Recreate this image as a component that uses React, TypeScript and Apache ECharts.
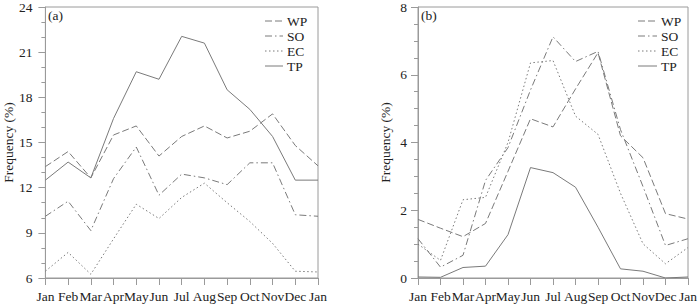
import React, { useEffect, useRef } from "react";
import * as echarts from "echarts";

const months = ["Jan", "Feb", "Mar", "Apr", "May", "Jun", "Jul", "Aug", "Sep", "Oct", "Nov", "Dec", "Jan"];

// Panel (a)
const aWP = [13.4, 14.4, 12.65, 15.5, 16.1, 14.1, 15.4, 16.1, 15.3, 15.75, 16.9, 14.8, 13.45];
const aSO = [10.1, 11.1, 9.15, 12.6, 14.7, 11.5, 12.9, 12.65, 12.2, 13.65, 13.65, 10.2, 10.1];
const aEC = [6.45, 7.7, 6.25, 8.6, 10.9, 9.95, 11.35, 12.3, 11.0, 9.75, 8.3, 6.45, 6.4];
const aTP = [12.5, 13.7, 12.65, 16.6, 19.7, 19.2, 22.05, 21.6, 18.5, 17.2, 15.4, 12.5, 12.5];

// Panel (b)
const bWP = [1.73, 1.47, 1.22, 1.61, 3.15, 4.7, 4.46, 5.58, 6.65, 4.2, 3.55, 1.9, 1.74];
const bSO = [1.16, 0.32, 0.67, 2.88, 3.85, 5.55, 7.12, 6.39, 6.69, 4.38, 2.7, 0.96, 1.16];
const bEC = [1.0, 0.52, 2.31, 2.38, 4.0, 6.35, 6.42, 4.78, 4.24, 2.5, 1.01, 0.42, 0.9];
const bTP = [0.03, 0.02, 0.31, 0.35, 1.28, 3.26, 3.11, 2.68, 1.5, 0.27, 0.2, 0.0, 0.03];

const seriesNames = ["WP", "SO", "EC", "TP"];
const FONT = "Liberation Serif";
const LINE = "#7a7a7a";
const AXIS = "#9a9a9a";
const TEXT = "#222";
const FS = 13.5;

const dashes: Record<string, any> = {
  WP: [7, 3],
  SO: [7, 3, 1.5, 3],
  EC: [1.5, 2.5],
  TP: "solid",
};

export default function App() {
  const ref = useRef<HTMLDivElement>(null);
  useEffect(() => {
    if (!ref.current) return;
    const chart = echarts.init(ref.current, undefined, { renderer: "svg" });
    const grids = [
      { left: 45, top: 5, right: 382, bottom: 26 },
      { left: 418, top: 5, right: 9, bottom: 26 },
    ];
    const mkX = (i: number) => ({
      type: "category",
      gridIndex: i,
      data: months,
      boundaryGap: false,
      axisLine: { show: true, lineStyle: { color: AXIS, width: 1 } },
      axisTick: { show: true, inside: false, length: 7, interval: 0, lineStyle: { color: AXIS } },
      axisLabel: {
        interval: 0,
        showMinLabel: true,
        showMaxLabel: true,
        hideOverlap: false,
        color: TEXT,
        fontFamily: FONT,
        fontSize: FS,
        margin: 11,
      },
      splitLine: { show: false },
    });
    const mkY = (i: number, min: number, max: number, interval: number, minorSplit: number, margin: number, gap: number) => ({
      type: "value",
      gridIndex: i,
      min,
      max,
      interval,
      name: "Frequency (%)",
      nameLocation: "middle",
      nameGap: gap,
      nameTextStyle: { color: TEXT, fontFamily: FONT, fontSize: FS },
      axisLine: { show: true, lineStyle: { color: AXIS, width: 1 } },
      axisTick: { show: true, inside: false, length: 7, lineStyle: { color: AXIS } },
      minorTick: { show: true, splitNumber: minorSplit, length: 4, lineStyle: { color: AXIS } },
      axisLabel: { color: TEXT, fontFamily: FONT, fontSize: FS, margin, showMinLabel: true, showMaxLabel: true },
      splitLine: { show: false },
      minorSplitLine: { show: false },
    });
    const data: Record<string, number[][]> = {
      WP: [aWP, bWP],
      SO: [aSO, bSO],
      EC: [aEC, bEC],
      TP: [aTP, bTP],
    };
    const series: any[] = [];
    [0, 1].forEach((p) => {
      seriesNames.forEach((n) => {
        series.push({
          type: "line",
          name: n,
          xAxisIndex: p,
          yAxisIndex: p,
          data: data[n][p],
          symbol: "none",
          lineStyle: { color: LINE, width: 1, type: dashes[n] },
          itemStyle: { color: LINE },
        });
      });
    });
    const legendGraphics: any[] = [];
    const legendAt = (x0: number, x1: number, tx: number) => {
      seriesNames.forEach((n, k) => {
        const y = 21 + k * 15;
        legendGraphics.push({
          type: "line",
          shape: { x1: x0, y1: y, x2: x1, y2: y },
          style: { stroke: LINE, lineWidth: 1, lineDash: dashes[n] === "solid" ? null : dashes[n] },
        });
        legendGraphics.push({
          type: "text",
          x: tx,
          y,
          style: { text: n, fill: TEXT, font: `${FS}px '${FONT}'`, verticalAlign: "middle", align: "left" },
        });
      });
    };
    legendAt(265, 283, 287);
    legendAt(638, 657, 661);
    chart.setOption({
      animation: false,
      backgroundColor: "#fff",
      grid: grids.map((g) => ({ ...g, show: true, borderColor: AXIS, borderWidth: 1, backgroundColor: "transparent" })),
      xAxis: [mkX(0), mkX(1)],
      yAxis: [mkY(0, 6, 24, 3, 3, 13, 21), mkY(1, 0, 8, 2, 4, 11, 26)],
      graphic: [
        { type: "text", x: 48, y: 15, style: { text: "(a)", fill: TEXT, font: `${FS}px '${FONT}'`, verticalAlign: "middle" } },
        { type: "text", x: 421, y: 15, style: { text: "(b)", fill: TEXT, font: `${FS}px '${FONT}'`, verticalAlign: "middle" } },
        ...legendGraphics,
      ],
      series,
    });
    return () => chart.dispose();
  }, []);
  return <div ref={ref} style={{ width: 700, height: 304, position: "absolute", left: 0, top: 0 }} />;
}
